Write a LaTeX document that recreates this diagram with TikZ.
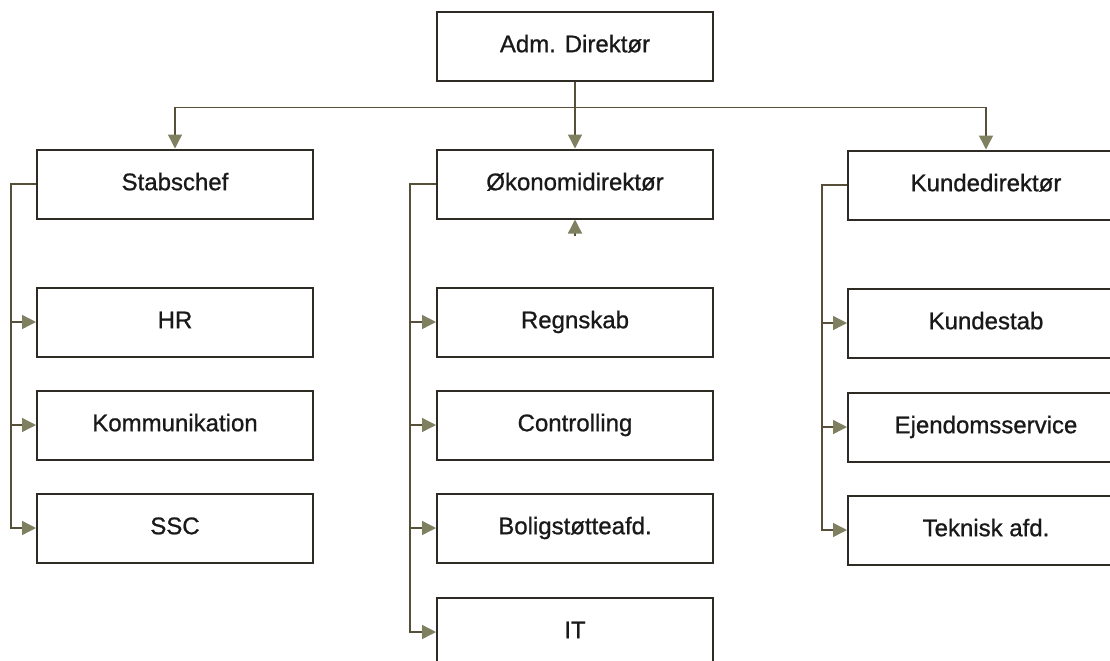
\documentclass[tikz,border=0pt]{standalone}
\usepackage{fontspec}
\setmainfont{Liberation Sans}
\newfontfamily\unitfont{Liberation Sans}[BoldFont=Liberation Sans, BoldFeatures={FakeBold=0.9}]
\usetikzlibrary{arrows.meta}
\definecolor{linecol}{HTML}{574F3A}
\definecolor{tipcol}{HTML}{7E8060}
\definecolor{boxcol}{HTML}{2E2A24}
\tikzset{
	unit/.style={draw=boxcol, line width=1pt, minimum width=138pt, minimum height=34.5pt, inner sep=0pt, text height=8.6pt, text depth=2.4pt, font=\unitfont\bfseries\fontsize{12}{14}\selectfont, text=black!90},
	link/.style={draw=linecol, line width=0.7pt, -{Triangle[length=7pt,width=7pt,color=tipcol]}}
}

\begin{document}
\begin{tikzpicture}[x=0.5pt,y=-0.5pt]
			\useasboundingbox (0,0) rectangle (1110,660);
			\clip (0,0) rectangle (1110,660);
			% Top
			\node[unit] (adm) at (575,46) {Adm. Direktør};
			% Directors
			\node[unit] (stab) at (175,184) {Stabschef};
			\node[unit] (oko) at (575,184) {Økonomidirektør};
			\node[unit] (kunde) at (986,185) {Kundedirektør};
			% Departments under each director
			\foreach \nm/\txt/\yy in {hr/HR/322, komm/Kommunikation/425, ssc/SSC/528} {
			\node[unit] (\nm) at (175,\yy) {\txt};
			\draw[link] (stab.west) -- ++(-25,0) |- (\nm.west);
			}
			\foreach \nm/\txt/\yy in {regn/Regnskab/322, contr/Controlling/425, bolig/Boligstøtteafd./528, it/IT/632} {
			\node[unit] (\nm) at (575,\yy) {\txt};
			\draw[link] (oko.west) -- ++(-26,0) |- (\nm.west);
			}
			\foreach \nm/\txt/\yy in {kstab/Kundestab/323, ejend/Ejendomsservice/427, tekn/Teknisk afd./530} {
			\node[unit] (\nm) at (986,\yy) {\txt};
			\draw[link] (kunde.west) -- ++(-25,0) |- (\nm.west);
			}
			% Lines from the top
			\draw[link] (adm.south) -- (oko.north);
			\draw[link] (adm.south) -- ++(0,26) -| (stab.north);
			\draw[link] (adm.south) -- ++(0,26) -| (kunde.north);
			% Loose tip under the middle box
			\coordinate (okotail) at ([yshift=-8pt]oko.south);
			\draw[link] (okotail) -- (oko.south);
		\end{tikzpicture}
\end{document}
